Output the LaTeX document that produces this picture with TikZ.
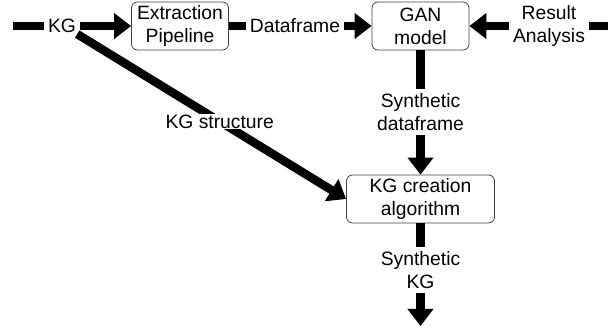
\documentclass[tikz,border=0pt]{standalone}
\usepackage{fontspec}
\setmainfont{Liberation Sans}
\usetikzlibrary{arrows.meta,positioning}

\begin{document}
\begin{tikzpicture}[x=1pt,y=-1pt,->,>={Triangle[length=17pt,width=25pt]},line width=8.5pt,
                    font=\fontsize{19.3}{23}\selectfont,
                    box/.style={draw=black!75,line width=0.8pt,rounded corners=6pt,minimum height=48pt,align=center,inner sep=2pt},
                    lbl/.style={align=center,inner sep=0pt}]
                \useasboundingbox (0,0) rectangle (608,328);
                \node[box,minimum width=97pt] (extract) at (180,26) {Extraction\\Pipeline};
                \node[box,minimum width=97pt] (gan) at (420.5,26) {GAN\\model};
                \node[box,minimum width=148pt] (kgc) at (420.5,199) {KG creation\\algorithm};
                \node[lbl] (kg) at (62,26) {KG};
                \node[lbl] (df) at (295,26) {Dataframe};
                \node[lbl] (res) at (549,26) {Result\\Analysis};
                \node[lbl] (sdf) at (420.5,112) {Synthetic\\dataframe};
                \node[lbl] (skg) at (420.5,270) {Synthetic\\KG};
                \coordinate (in) at (13,26);
                \coordinate (out) at (608,26);
                \coordinate (sink) at (420.5,326);
                \coordinate (kgfoot) at ([shift={(-3,-3)}]kg.south east);
                \path
                    (in) edge[-] (kg)
                    (kg) edge (extract)
                    (kgfoot) edge node[lbl,inner sep=1pt,fill=white,pos=0.53] (kgs) {KG structure} (kgc.west)
                    (extract) edge[-] (df)
                    (df) edge (gan)
                    (out) edge[-] (res)
                    (res) edge (gan)
                    (gan) edge[-] (sdf)
                    (sdf) edge (kgc)
                    (kgc) edge[-] (skg)
                    (skg) edge (sink);
            \end{tikzpicture}
\end{document}
